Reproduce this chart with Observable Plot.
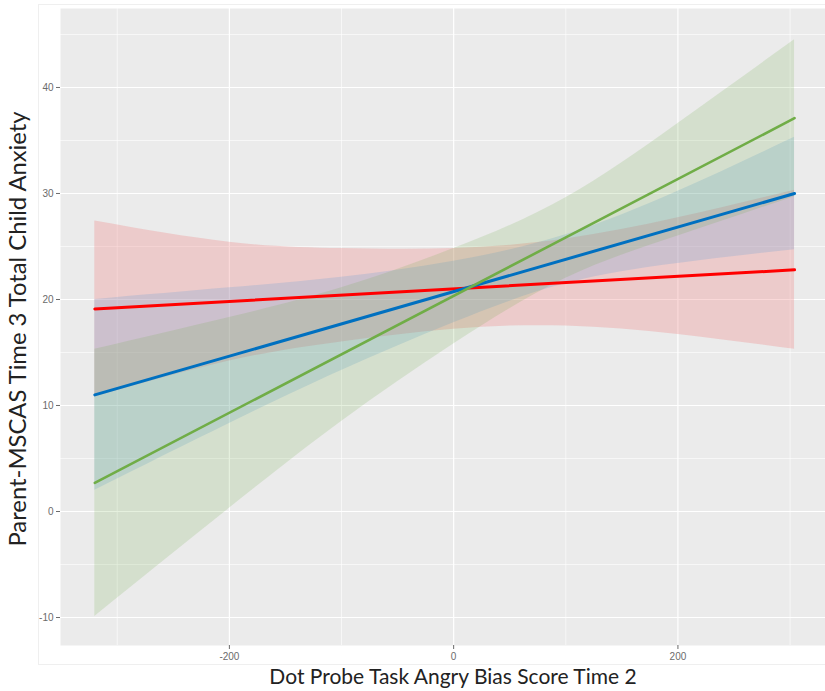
<!DOCTYPE html>
<html>
<head>
<meta charset="utf-8">
<script src="https://cdn.jsdelivr.net/npm/d3@7"></script>
<script src="https://cdn.jsdelivr.net/npm/@observablehq/plot@0.6"></script>
<style>
  html, body { margin: 0; padding: 0; background: #fff; }
  #wrap { position: relative; width: 825px; height: 691px; }
  #border { position: absolute; left: 38px; top: 4px; width: 790px; height: 661px; border: 1px solid #efefef; box-sizing: border-box; }
  #chart { position: absolute; left: 0; top: 0; }
</style>
</head>
<body>
<div id="wrap"><div id="border"></div><div id="chart"></div></div>
<script>
// ---- data ----
const xTitle = "Dot Probe Task Angry Bias Score Time 2";
const yTitle = "Parent-MSCAS Time 3 Total Child Anxiety";

const xMajorTicks = [-200, 0, 200];
const xMinorTicks = [-300, -100, 100, 300];
const yMajorTicks = [-10, 0, 10, 20, 30, 40];
const yMinorTicks = [-5, 5, 15, 25, 35, 45];

// fitted lines (end points)
const lineX = [-320, 304];
const redFit = [19.1, 22.8];
const blueFit = [11.0, 30.0];
const greenFit = [2.7, 37.1];

// confidence bands sampled along x
const bandX = [-320, -200, -100, 0, 100, 200, 304];
const redLower = [10.8, 14.2, 16.0, 17.2, 17.5, 16.7, 15.3];
const redUpper = [27.4, 25.4, 24.8, 24.8, 25.7, 27.7, 30.3];
const blueLower = [2.0, 8.3, 13.3, 17.8, 21.5, 23.4, 24.7];
const blueUpper = [20.0, 21.1, 22.1, 23.6, 26.1, 30.2, 35.3];
const greenLower = [-9.9, 0.3, 8.5, 15.8, 22.0, 26.0, 29.7];
const greenUpper = [15.3, 18.3, 21.1, 24.8, 29.6, 36.6, 44.5];

const seriesNames = ["red", "blue", "green"];
const lineColors = ["#FF0000", "#0070C0", "#70AD47"];
const bandColors = ["#F08080", "#5B9BD5", "#70AD47"];
const bandOpacity = [0.3, 0.22, 0.18];

// ---- build tables ----
const fits = [redFit, blueFit, greenFit];
const lowers = [redLower, blueLower, greenLower];
const uppers = [redUpper, blueUpper, greenUpper];

const bandRows = [];
const lineRows = [];
seriesNames.forEach((s, i) => {
  bandX.forEach((x, j) => bandRows.push({s, x, lo: lowers[i][j], hi: uppers[i][j]}));
  lineX.forEach((x, j) => lineRows.push({s, x, y: fits[i][j]}));
});

const fmt = d => String(d);
const bandMarks = seriesNames.map((s, i) =>
  Plot.areaY(bandRows.filter(d => d.s === s), {
    x: "x", y1: "lo", y2: "hi", fill: bandColors[i], fillOpacity: bandOpacity[i], curve: "natural"
  }));
const lineMarks = seriesNames.map((s, i) =>
  Plot.line(lineRows.filter(d => d.s === s), {
    x: "x", y: "y", stroke: lineColors[i], strokeWidth: i === 2 ? 2.6 : 3
  }));

const chart = Plot.plot({
  width: 825,
  height: 691,
  marginLeft: 60,
  marginRight: 0,
  marginTop: 8,
  marginBottom: 46,
  style: { fontFamily: "'Liberation Sans', Arial, sans-serif", background: "transparent" },
  x: { domain: [-350.6, 331.6] },
  y: { domain: [-12.64, 47.45] },
  marks: [
    Plot.frame({ fill: "#EBEBEB", stroke: null }),
    Plot.ruleX(xMinorTicks, { stroke: "#fff", strokeWidth: 0.6 }),
    Plot.ruleY(yMinorTicks, { stroke: "#fff", strokeWidth: 0.6 }),
    Plot.ruleX(xMajorTicks, { stroke: "#fff", strokeWidth: 1.2 }),
    Plot.ruleY(yMajorTicks, { stroke: "#fff", strokeWidth: 1.2 }),
    ...bandMarks,
    ...lineMarks,
    Plot.axisX(xMajorTicks, { tickSize: 4, tickPadding: 3, fontSize: 10, tickFormat: fmt, color: "#6b6b6b", label: null }),
    Plot.axisY(yMajorTicks, { tickSize: 4, tickPadding: 3, fontSize: 10, tickFormat: fmt, color: "#6b6b6b", label: null }),
    Plot.text([xTitle], { frameAnchor: "bottom", lineAnchor: "middle", textAnchor: "middle", dx: 10, dy: 32, fontSize: 21, fill: "#222", fontFamily: "Lato, 'Open Sans', sans-serif" }),
    Plot.text([yTitle], { frameAnchor: "left", lineAnchor: "middle", textAnchor: "middle", dx: -42, dy: 2, rotate: -90, fontSize: 23.8, fill: "#222", fontFamily: "Lato, 'Open Sans', sans-serif" })
  ]
});
document.getElementById("chart").appendChild(chart);
</script>
</body>
</html>
